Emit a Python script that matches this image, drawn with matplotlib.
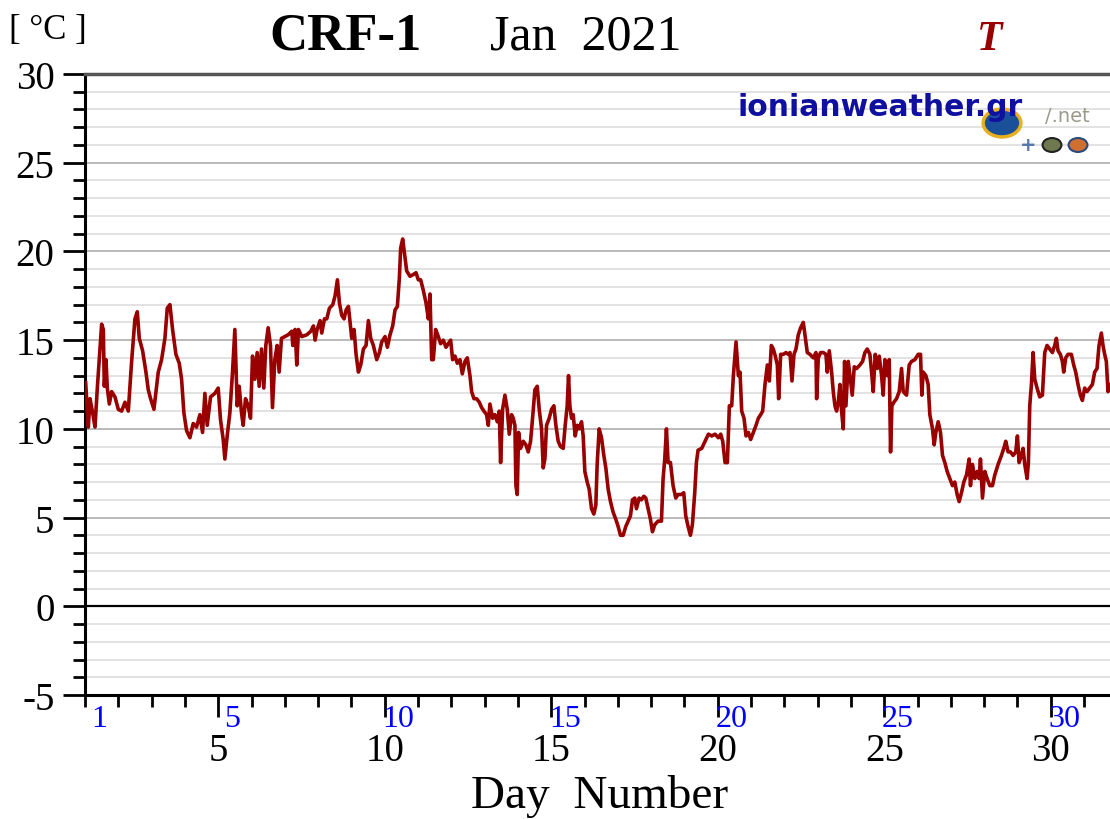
import matplotlib.pyplot as plt
from matplotlib.ticker import MultipleLocator, FixedLocator, NullFormatter
from matplotlib.patches import Circle

# temperature trace, CRF-1, January 2021 (day number, deg C)
day = [1.02, 1.10, 1.15, 1.23, 1.30, 1.37, 1.45, 1.50, 1.55, 1.58, 1.63, 1.67, 1.73, 1.80, 1.90, 2.00,
       2.10, 2.20, 2.30, 2.40, 2.50, 2.57, 2.63, 2.73, 2.83, 2.90, 2.97, 3.07, 3.20, 3.30, 3.40, 3.47,
       3.55, 3.63, 3.73, 3.83, 3.90, 3.97, 4.05, 4.15, 4.25, 4.35, 4.45, 4.53, 4.60, 4.67, 4.77, 4.90,
       5.00, 5.07, 5.15, 5.20, 5.27, 5.35, 5.43, 5.50, 5.57, 5.63, 5.70, 5.75, 5.82, 5.90, 5.97, 6.03,
       6.10, 6.17, 6.23, 6.30, 6.37, 6.43, 6.50, 6.57, 6.63, 6.70, 6.77, 6.83, 6.90, 7.00, 7.10,
       7.21, 7.24, 7.31, 7.36, 7.41, 7.51, 7.66, 7.78, 7.86, 7.91, 7.97, 8.06, 8.11, 8.19, 8.26, 8.34,
       8.44, 8.51, 8.58, 8.64, 8.71, 8.78, 8.84, 8.91, 8.96, 9.01, 9.08, 9.14, 9.21, 9.28, 9.36, 9.44,
       9.51, 9.58, 9.66, 9.76, 9.84, 9.91, 10.01, 10.08, 10.16, 10.24, 10.31, 10.38, 10.44, 10.48, 10.54,
       10.60, 10.66, 10.76, 10.86, 10.94, 11.01, 11.08, 11.16, 11.24, 11.31, 11.36, 11.41, 11.46, 11.53,
       11.61, 11.68, 11.76, 11.84, 11.91, 11.98, 12.04, 12.11, 12.18, 12.26, 12.33, 12.41, 12.48, 12.56,
       12.61, 12.68, 12.76, 12.84, 12.91, 12.98, 13.06, 13.11,
       13.16, 13.24, 13.31, 13.38, 13.44, 13.48, 13.54, 13.61, 13.68, 13.74, 13.81, 13.86, 13.91, 13.94,
       13.98, 14.02, 14.08, 14.16, 14.24, 14.31, 14.38, 14.44, 14.51, 14.58, 14.64, 14.71, 14.76, 14.81,
       14.86, 14.94, 15.01, 15.08, 15.14, 15.21, 15.28, 15.36, 15.42, 15.48, 15.52, 15.56, 15.61, 15.66,
       15.72, 15.78, 15.84, 15.91, 15.96, 16.01, 16.08, 16.14, 16.21, 16.28, 16.34, 16.38, 16.44, 16.51,
       16.58, 16.64, 16.71, 16.78, 16.86, 16.94, 17.01, 17.08, 17.16, 17.24, 17.31, 17.38, 17.44, 17.51,
       17.56, 17.64, 17.71, 17.78, 17.84, 17.91, 17.98, 18.04, 18.11, 18.21, 18.31, 18.36, 18.41, 18.46,
       18.51, 18.58, 18.66, 18.74, 18.81, 18.91, 18.98, 19.04, 19.11, 19.18, 19.24, 19.31, 19.36, 19.41,
       19.52, 19.62, 19.72, 19.82, 19.92, 20.02, 20.09, 20.15, 20.22, 20.29, 20.35, 20.42, 20.47, 20.55,
       20.62, 20.67, 20.72, 20.79, 20.85, 20.92, 20.99, 21.07, 21.15, 21.22, 21.29, 21.35, 21.42, 21.49,
       21.55, 21.61, 21.67, 21.73, 21.79, 21.83, 21.89, 21.97, 22.05, 22.12, 22.17, 22.23, 22.29, 22.35,
       22.42, 22.49, 22.57, 22.62, 22.69, 22.77, 22.87, 22.95, 22.97, 23.02, 23.09, 23.17, 23.25, 23.29,
       23.35, 23.42, 23.47, 23.52, 23.57, 23.62, 23.67, 23.72, 23.77, 23.81, 23.85, 23.92, 23.97, 24.04,
       24.10, 24.17, 24.27, 24.35, 24.42, 24.49, 24.57, 24.62, 24.67, 24.73, 24.79, 24.85, 24.92, 24.97,
       25.02, 25.09, 25.15, 25.19, 25.23, 25.29, 25.37, 25.45, 25.52, 25.57, 25.67,
       25.75, 25.82, 25.92, 26.02, 26.09, 26.13, 26.17, 26.25, 26.32, 26.37, 26.45, 26.50, 26.55, 26.62,
       26.69, 26.75, 26.82, 26.89, 26.97, 27.05, 27.12, 27.19, 27.25, 27.32, 27.39, 27.47, 27.55, 27.59,
       27.65, 27.72, 27.79, 27.85, 27.89, 27.95, 28.02, 28.09, 28.17, 28.25, 28.32, 28.42, 28.52, 28.59,
       28.65, 28.72, 28.79, 28.87, 28.95, 29.00, 29.05, 29.12, 29.17, 29.22, 29.29, 29.33, 29.37, 29.42,
       29.47, 29.52, 29.59, 29.67, 29.75, 29.82, 29.89, 29.97, 30.05, 30.12, 30.17, 30.22, 30.29, 30.35,
       30.39, 30.45, 30.52, 30.62, 30.69, 30.75, 30.82, 30.89, 30.95, 31.02, 31.09, 31.17, 31.25, 31.32,
       31.39, 31.45, 31.52, 31.57, 31.62, 31.67, 31.72, 31.75]

temp = [12.6, 10.1, 11.7, 10.9, 10.1, 12.3, 14.5, 15.9, 15.6, 12.4, 13.9, 12.3, 11.4, 12.1, 11.8, 11.1,
        11.0, 11.5, 11.0, 13.8, 16.2, 16.6, 15.1, 14.4, 13.2, 12.2, 11.7, 11.1, 13.2, 13.9, 15.1, 16.8,
        17.0, 15.6, 14.2, 13.7, 12.8, 10.9, 9.9, 9.5, 10.3, 10.1, 10.8, 9.8, 12.0, 10.2, 11.8, 12.0,
        12.3, 10.5, 9.4, 8.3, 9.6, 10.9, 13.2, 15.6, 11.3, 12.4, 10.9, 10.2, 11.7, 11.3, 10.6, 14.1,
        12.8, 14.3, 12.4, 14.5, 12.3, 14.7, 15.7, 14.7, 11.2, 13.9, 14.7, 13.2, 15.1, 15.2, 15.3,
        15.5, 14.7, 15.6, 13.6, 15.6, 15.2, 15.3, 15.5, 15.8, 15.0, 15.6, 16.1, 15.4, 16.2, 16.2, 16.8,
        17.0, 17.5, 18.4, 17.1, 16.4, 16.2, 16.7, 16.9, 16.0, 15.1, 15.6, 14.2, 13.2, 13.6, 14.5, 14.7,
        16.1, 15.1, 14.7, 13.9, 14.3, 14.9, 15.2, 14.6, 15.3, 15.8, 16.7, 16.9, 18.5, 20.2, 20.7,
        19.8, 18.9, 18.6, 18.7, 18.8, 18.4, 18.4, 17.8, 17.1, 16.2, 17.6, 13.9, 13.9, 15.6,
        15.2, 14.8, 15.0, 14.6, 14.8, 15.0, 13.9, 14.1, 13.7, 13.9, 13.1, 13.8, 14.0, 13.0,
        12.1, 11.7, 11.7, 11.5, 11.2, 11.0, 10.8, 10.2,
        11.4, 10.6, 10.8, 10.4, 11.0, 8.1, 11.1, 11.9, 11.1, 9.7, 10.8, 10.6, 10.2, 6.8,
        6.3, 9.8, 8.9, 9.3, 9.1, 8.7, 9.3, 10.6, 12.2, 12.4, 11.1, 10.0, 7.8, 8.3,
        10.2, 10.6, 11.1, 11.3, 10.2, 9.3, 9.0, 8.9, 10.2, 11.3, 13.0, 11.3, 10.6, 10.8,
        9.6, 10.2, 10.0, 10.4, 9.6, 7.6, 7.0, 6.6, 5.5, 5.2, 5.7, 8.0, 10.0, 9.5,
        8.5, 7.8, 6.6, 5.9, 5.3, 4.9, 4.5, 4.0, 4.0, 4.5, 4.8, 5.1, 6.0, 6.1,
        5.5, 6.1, 6.0, 6.2, 6.1, 5.5, 4.9, 4.2, 4.6, 4.8, 4.8, 7.2, 8.3, 10.0,
        8.1, 8.1, 6.8, 6.1, 6.3, 6.3, 6.4, 5.1, 4.5, 4.0, 4.6, 6.4, 8.1, 8.8,
        8.9, 9.3, 9.7, 9.6, 9.7, 9.5, 9.7, 9.3, 8.1, 8.1, 11.3, 11.3, 13.0, 14.9,
        13.0, 13.2, 11.0, 10.6, 9.6, 9.8, 9.4, 9.8, 10.2, 10.6, 10.8, 11.0, 12.5, 13.6,
        12.7, 14.7, 14.5, 14.1, 13.6, 11.7, 14.2, 14.2, 14.3, 14.2, 14.3, 12.7, 14.2, 14.5,
        15.3, 15.7, 16.0, 15.3, 14.3, 14.2, 14.0, 14.3, 11.7, 14.0, 14.3, 14.3, 14.2, 13.2,
        14.4, 13.2, 12.1, 11.3, 11.0, 11.5, 12.5, 11.0, 10.0, 13.8, 11.3, 13.8, 13.0, 11.9,
        13.5, 13.4, 13.6, 13.8, 14.3, 14.5, 14.2, 13.2, 12.1, 14.2, 13.4, 14.1, 13.0, 11.9,
        13.9, 13.0, 13.9, 8.7, 11.3, 11.5, 11.7, 12.1, 13.4, 12.1, 11.9,
        13.6, 13.8, 13.9, 14.2, 14.2, 11.9, 13.2, 13.0, 12.5, 10.8, 10.0, 9.1, 9.8, 10.4,
        9.8, 8.5, 8.1, 7.6, 7.2, 6.8, 7.0, 6.3, 5.9, 6.4, 7.0, 7.4, 8.3, 6.8,
        8.0, 7.2, 7.6, 7.2, 8.3, 6.1, 7.6, 7.2, 6.8, 6.8, 7.4, 8.0, 8.5, 8.9,
        9.3, 8.7, 8.7, 8.5, 8.7, 9.6, 8.1, 8.5, 8.9, 8.0, 7.2, 8.1, 11.3, 12.5,
        14.3, 12.8, 12.3, 11.8, 11.9, 14.3, 14.7, 14.5, 14.3, 14.7, 15.1, 14.4, 14.2, 13.8,
        13.2, 14.0, 14.2, 14.2, 13.6, 13.2, 12.5, 11.9, 11.6, 12.3, 12.1, 12.3, 12.5, 13.2,
        13.4, 14.7, 15.4, 14.7, 14.2, 13.8, 12.1, 12.5]

x_ticks = [5, 10, 15, 20, 25, 30]
date_labels = [1, 5, 10, 15, 20, 25, 30]

plt.rcParams['font.family'] = ['Liberation Serif', 'DejaVu Serif']
plt.rcParams['axes.unicode_minus'] = False

fig = plt.figure(figsize=(11.1, 8.2), dpi=100)
ax = fig.add_axes([85 / 1110, 1 - 696 / 820, 1 - 85 / 1110, (696 - 75) / 820])

# horizontal grid: every degree, darker every 5
for v in range(-4, 30):
    if v == 0:
        ax.axhline(v, color='black', lw=1.6, zorder=2)
    elif v % 5 == 0:
        ax.axhline(v, color='#b4b4b4', lw=1.3, zorder=1)
    else:
        ax.axhline(v, color='#dddddd', lw=1.2, zorder=1)

ax.plot(day, temp, color='#990000', lw=2.6, zorder=3)

ax.set_xlim(1, 31.78)
ax.set_ylim(-5, 30)

ax.spines['right'].set_visible(False)
ax.spines['top'].set_color('#555555')
ax.spines['top'].set_linewidth(2.5)
ax.spines['left'].set_linewidth(2.2)
ax.spines['bottom'].set_linewidth(2.2)

ax.yaxis.set_major_locator(MultipleLocator(5))
ax.yaxis.set_minor_locator(MultipleLocator(1))
ax.xaxis.set_major_locator(FixedLocator(x_ticks))
ax.xaxis.set_minor_locator(FixedLocator(range(1, 32)))
ax.xaxis.set_minor_formatter(NullFormatter())

ax.tick_params(axis='y', which='major', length=16, width=2, labelsize=28, pad=6)
ax.tick_params(axis='y', which='minor', length=8.5, width=2)
ax.tick_params(axis='x', which='major', length=16, width=2, labelsize=28, pad=11)
ax.tick_params(axis='x', which='minor', length=8.5, width=2)

# blue day-of-month labels beside the ticks
for d in date_labels:
    ax.annotate(str(d), xy=(d, 0), xycoords=('data', 'axes fraction'),
                xytext=(10, -17), textcoords='offset points',
                ha='center', va='center', color='#0000ff', fontsize=23)

fig.text(48 / 1110, 1 - 30 / 820, '[ °C ]', ha='center', va='center', fontsize=25)
fig.text(346 / 1110, 1 - 37 / 820, 'CRF-1', ha='center', va='center', fontsize=38, fontweight='bold')
fig.text(586 / 1110, 1 - 37 / 820, 'Jan  2021', ha='center', va='center', fontsize=36)
fig.text(990 / 1110, 1 - 40 / 820, 'T', ha='center', va='center', fontsize=30,
         fontweight='bold', style='italic', color='#990000')
fig.text(600 / 1110, 1 - 797 / 820, 'Day  Number', ha='center', va='center', fontsize=34)

# site logo, top right
fig.patches.append(Circle((1002 / 1110, 1 - 124 / 820), 0.017, transform=fig.transFigure,
                          facecolor='#1a4f9a', edgecolor='#e8b020', lw=2.5))
fig.text(738 / 1110, 1 - 107 / 820, 'ionianweather.gr', ha='left', va='center', fontsize=21.5,
         fontweight='bold', color='#1010a0', family='DejaVu Sans', zorder=6)
fig.text(1045 / 1110, 1 - 117 / 820, '/.net', ha='left', va='center', fontsize=14,
         color='#9a9a8a', family='DejaVu Sans')
fig.text(1028 / 1110, 1 - 146 / 820, '+', ha='center', va='center', fontsize=14,
         fontweight='bold', color='#5577aa', family='DejaVu Sans')
fig.patches.append(Circle((1052 / 1110, 1 - 146 / 820), 0.0085, transform=fig.transFigure,
                          facecolor='#707850', edgecolor='#222222', lw=1.5))
fig.patches.append(Circle((1078 / 1110, 1 - 146 / 820), 0.0085, transform=fig.transFigure,
                          facecolor='#d07030', edgecolor='#2a4a80', lw=1.5))

fig.savefig('out.png', dpi=100)
